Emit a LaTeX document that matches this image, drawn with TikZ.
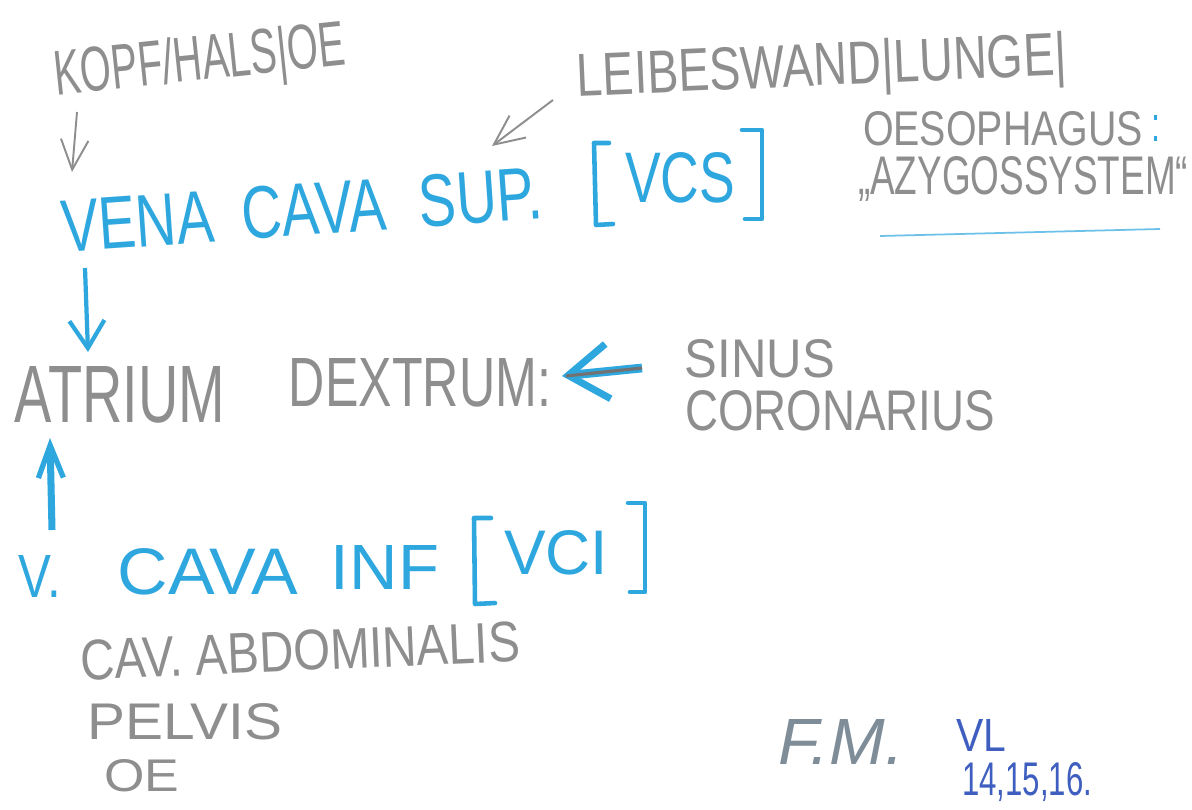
\documentclass[tikz,border=0pt]{standalone}
\usepackage{fontspec}
\setmainfont{Liberation Sans}
\usetikzlibrary{arrows.meta}
\newlength\pxu \setlength\pxu{0.02cm}
\newcommand\fitt[3]{\resizebox{#1\pxu}{#2\pxu}{#3}}
\definecolor{pencil}{HTML}{8E8E8E}
\definecolor{crayon}{HTML}{2EA7DF}
\definecolor{inkblue}{HTML}{3F5FC0}
\definecolor{sigcol}{HTML}{7F8D99}
\begin{document}
\begin{tikzpicture}[x=0.02cm,y=-0.02cm,
  lbl/.style={inner sep=0pt,outer sep=0pt},
  ptxt/.style={lbl,text=pencil},
  btxt/.style={lbl,text=crayon},
  itxt/.style={lbl,text=inkblue},
  parrow/.style={draw=pencil,line width=1.1pt,-{Straight Barb[length=0.6cm,width=0.55cm,line width=1.1pt]}},
  barrow/.style={draw=crayon,line width=2.4pt,-{Straight Barb[length=0.55cm,width=0.7cm,line width=2.4pt]}},
  bracket/.style={draw=crayon,line width=2.6pt,line cap=round,line join=round}]
\fill[white] (0,0) rectangle (1192,810);
\useasboundingbox (0,0) rectangle (1192,810);

% top left
\node[ptxt,rotate=6] (kopf) at (200,64) {\fitt{292}{46}{KOPF/HALS|OE}};
\coordinate (k1) at (77,112);
\coordinate (k2) at (72,172);
\draw[parrow] (k1) -- (k2);

% VCS
\node[btxt,rotate=4] (vena) at (302,210) {\fitt{482}{52}{VENA\hspace{0.5em}CAVA\hspace{0.6em}SUP.}};
\node[btxt] (vcs) at (680,178) {\fitt{110}{50}{VCS}};
\draw[bracket] (609,143) -- (594,143) -- (596,225) -- (613,224);
\draw[bracket] (742,130) -- (762,130) -- (762,219) -- (745,219);

% Leibeswand
\node[ptxt,rotate=2.5] (leib) at (822,70) {\fitt{490}{44}{LEIBESWAND|LUNGE|}};
\coordinate (l1) at (553,100);
\coordinate (l2) at (492,146);
\draw[parrow] (l1) -- (l2);
\node[ptxt] (oeso) at (1003,129) {\fitt{280}{34}{OESOPHAGUS}};
\node[btxt] (colon) at (1156,129) {\fitt{9}{26}{:}};
\node[ptxt,anchor=west] (azy) at (858,179) {\fitt{330}{38}{„AZYGOSSYSTEM“}};
\coordinate (u1) at (880,236);
\coordinate (u2) at (1160,229);
\draw[crayon!70,line width=1pt] (u1) -- (u2);

% down arrow
\coordinate (d1) at (85,268);
\coordinate (d2) at (88,352);
\draw[barrow] (d1) -- (d2);

% Atrium
\node[ptxt] (atrium) at (120,395) {\fitt{210}{56}{ATRIUM}};
\node[ptxt] (dextrum) at (420,383) {\fitt{262}{48}{DEXTRUM:}};
\coordinate (s1) at (642,368);
\coordinate (s2) at (562,376);
\draw[draw=crayon,line width=5pt,-{Straight Barb[length=0.8cm,width=1.1cm,line width=4pt]}] (s1) -- (s2);
\draw[draw=pencil!80!black,line width=1.8pt] (s1) -- (566,376);
\node[ptxt] (sinus) at (760,359) {\fitt{150}{38}{SINUS}};
\node[ptxt] (coro) at (840,411) {\fitt{310}{40}{CORONARIUS}};

% up arrow
\coordinate (v1) at (52,530);
\coordinate (v2) at (50,438);
\draw[draw=crayon,line width=4pt,-{Straight Barb[length=0.65cm,width=0.5cm,line width=3pt]}] (v1) -- (v2);

% VCI
\node[btxt] (vdot) at (40,576) {\fitt{42}{42}{V.}};
\node[btxt] (cava) at (208,572) {\fitt{180}{46}{CAVA}};
\node[btxt] (inf) at (385,567) {\fitt{108}{44}{INF}};
\node[btxt] (vci) at (556,553) {\fitt{104}{44}{VCI}};
\draw[bracket] (491,518) -- (474,518) -- (475,604) -- (495,603);
\draw[bracket] (628,503) -- (645,503) -- (645,592) -- (630,592);

% bottom
\node[ptxt,rotate=2.5] (abd) at (300,651) {\fitt{440}{40}{CAV. ABDOMINALIS}};
\node[ptxt] (pelvis) at (185,722) {\fitt{195}{36}{PELVIS}};
\node[ptxt] (oe) at (142,776) {\fitt{75}{32}{OE}};

% signature
\node[lbl,text=sigcol] (fm) at (841,742) {\fitt{125}{45}{\itshape F.M.}};
\node[itxt] (vl) at (981,735) {\fitt{50}{32}{VL}};
\node[itxt] (nums) at (1027,782) {\fitt{130}{33}{14,15,16.}};
\end{tikzpicture}
\end{document}
